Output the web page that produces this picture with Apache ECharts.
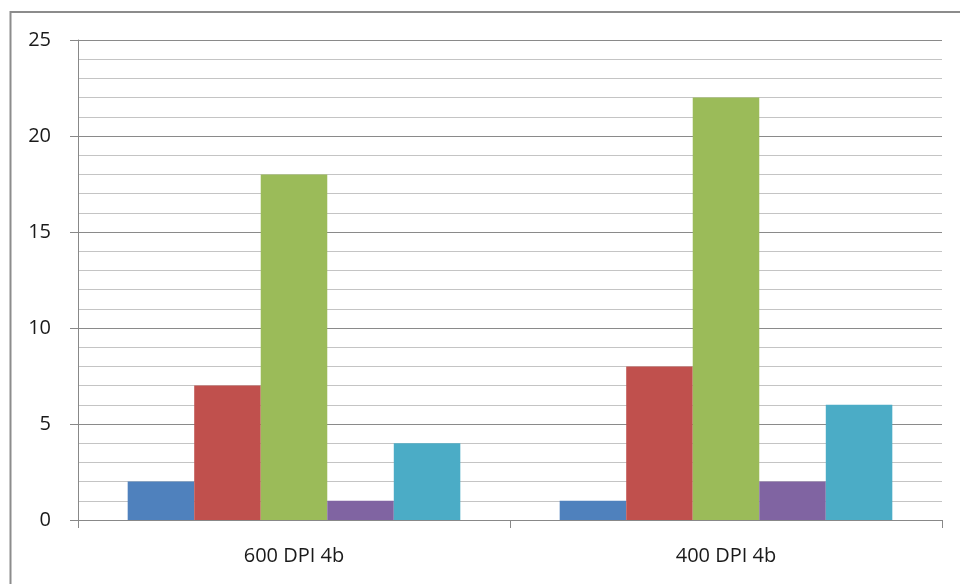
<!DOCTYPE html>
<html>
<head>
<meta charset="utf-8">
<script src="https://cdn.jsdelivr.net/npm/echarts@6/dist/echarts.min.js"></script>
<style>html,body{margin:0;padding:0;background:#fff;}#c{width:960px;height:584px;}</style>
</head>
<body>
<div id="c"></div>
<script>
const categories = ['600 DPI 4b', '400 DPI 4b'];
const seriesA = [2, 1];
const seriesB = [7, 8];
const seriesC = [18, 22];
const seriesD = [1, 2];
const seriesE = [4, 6];
const colors = ['#4F81BD', '#C0504D', '#9BBB59', '#8064A2', '#4BACC6'];
const allSeries = [seriesA, seriesB, seriesC, seriesD, seriesE];

const chart = echarts.init(document.getElementById('c'), null, {renderer: 'canvas'});
const font = 'Open Sans';
chart.setOption({
  animation: false,
  backgroundColor: '#fff',
  graphic: [{
    type: 'rect', silent: true,
    shape: {x: 10.5, y: 12, width: 980, height: 620},
    style: {fill: 'none', stroke: '#8c8c8c', lineWidth: 2}
  }],
  grid: {left: 78, right: 18, top: 40, bottom: 64, containLabel: false},
  xAxis: {
    type: 'category',
    data: categories,
    axisLine: {show: true, lineStyle: {color: '#888', width: 1}},
    axisTick: {show: true, alignWithLabel: false, length: 8, lineStyle: {color: '#888'}},
    axisLabel: {color: '#1a1a1a', fontFamily: font, fontSize: 20, margin: 26},
    splitLine: {show: false}
  },
  yAxis: {
    type: 'value',
    min: 0, max: 25, interval: 5,
    axisLine: {show: true, lineStyle: {color: '#888', width: 1}},
    axisTick: {show: true, inside: false, length: 8, lineStyle: {color: '#888'}},
    axisLabel: {color: '#1a1a1a', fontFamily: font, fontSize: 20, margin: 27},
    splitLine: {show: true, lineStyle: {color: '#8a8a8a', width: 1}},
    minorTick: {show: false, splitNumber: 5},
    minorSplitLine: {show: true, lineStyle: {color: '#c4c4c4', width: 1}}
  },
  series: allSeries.map((d, i) => ({
    type: 'bar',
    data: d,
    barGap: '0%',
    barCategoryGap: '23%',
    itemStyle: {color: colors[i]}
  }))
});
</script>
</body>
</html>
